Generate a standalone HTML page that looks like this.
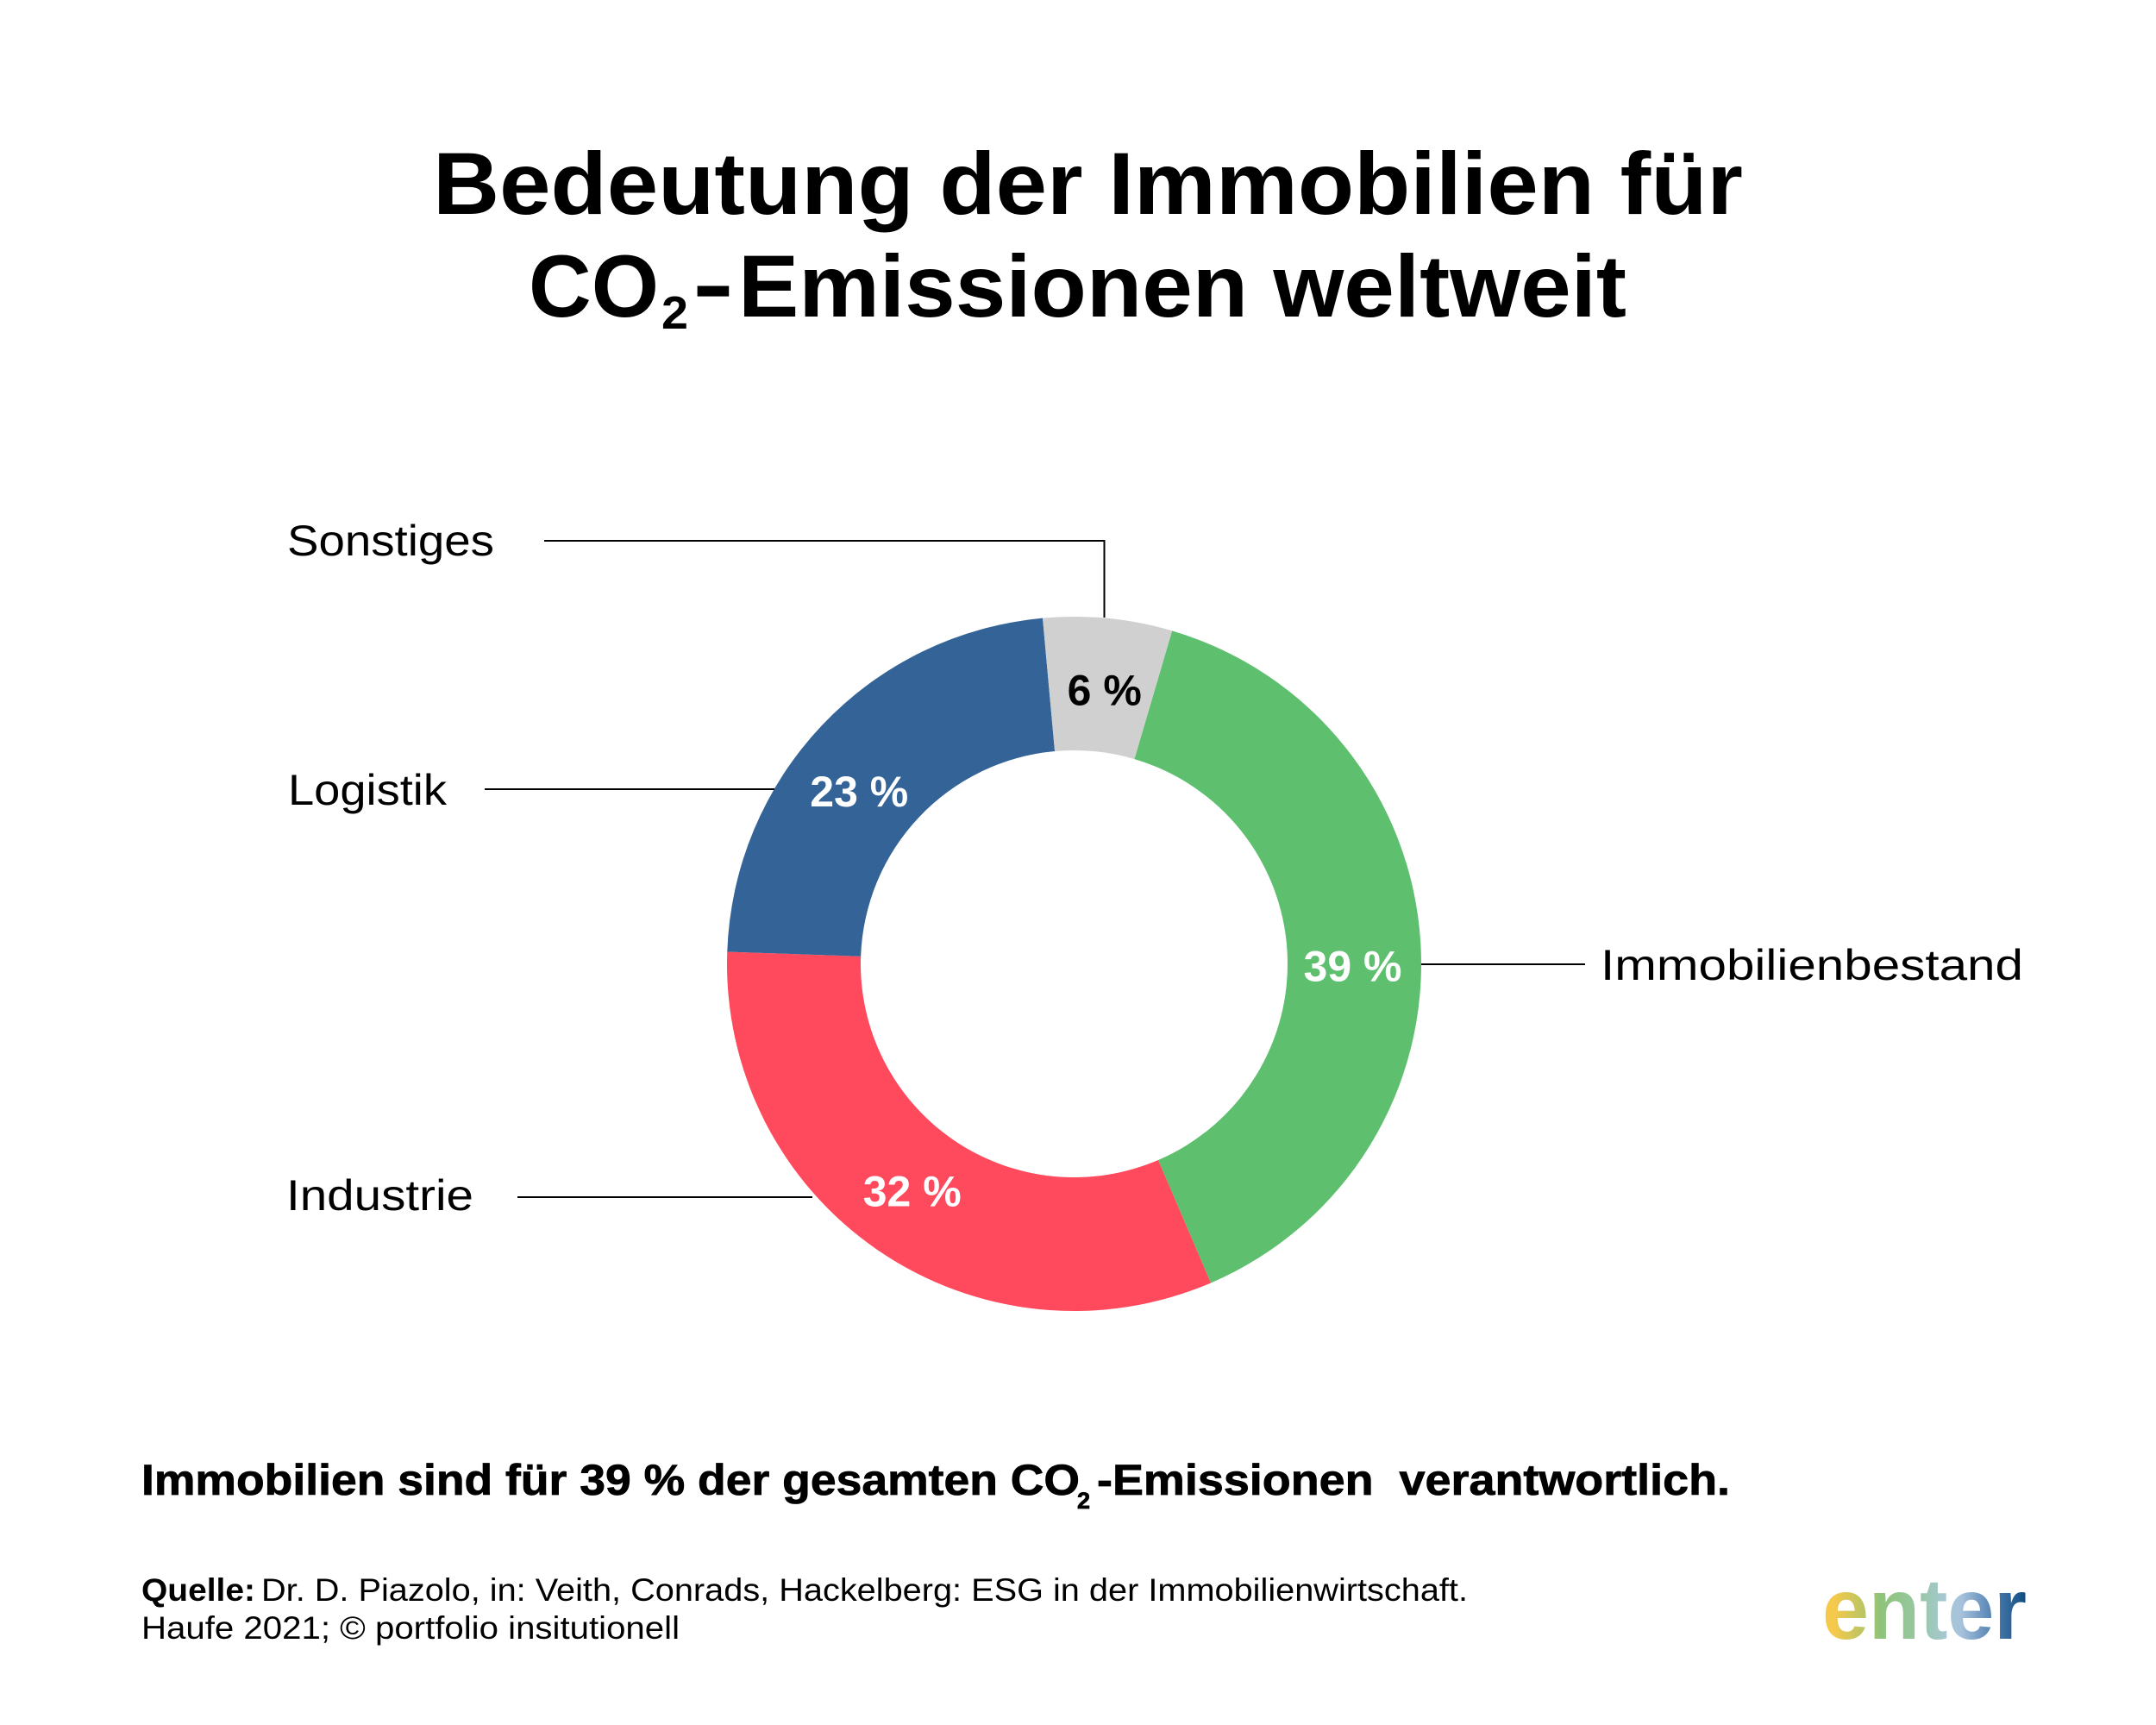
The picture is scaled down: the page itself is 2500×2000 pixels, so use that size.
<!DOCTYPE html>
<html lang="de">
<head>
<meta charset="utf-8">
<title>Bedeutung der Immobilien für CO2-Emissionen weltweit</title>
<style>
html,body{margin:0;padding:0;background:#fff;}
svg{display:block;}
text{font-family:"Liberation Sans",sans-serif;fill:#000;}
.b{font-weight:700;}
.heavy{stroke:#000;stroke-width:0.8;}
</style>
</head>
<body>
<svg id="chart" xmlns="http://www.w3.org/2000/svg" width="2500" height="2000" viewBox="0 0 2500 2000">
  <defs>
    <linearGradient id="logoGrad" gradientUnits="userSpaceOnUse" x1="2115" y1="0" x2="2349" y2="0">
      <stop offset="0.05" stop-color="#f5c94b"/>
      <stop offset="0.22" stop-color="#b0c568"/>
      <stop offset="0.28" stop-color="#8fc37a"/>
      <stop offset="0.45" stop-color="#95c79e"/>
      <stop offset="0.6" stop-color="#a6c8d2"/>
      <stop offset="0.68" stop-color="#a7c2dc"/>
      <stop offset="0.84" stop-color="#4f7fb0"/>
      <stop offset="1" stop-color="#0f4c81"/>
    </linearGradient>
  </defs>

  <rect x="0" y="0" width="2500" height="2000" fill="#ffffff"/>

  <g>
    <text class="b" x="502" y="248" font-size="102" textLength="1519" lengthAdjust="spacingAndGlyphs">Bedeutung der Immobilien für</text>
    <text class="b" x="613" y="367" font-size="102" textLength="151" lengthAdjust="spacingAndGlyphs">CO</text>
    <text class="b" x="767" y="381" font-size="54" textLength="31" lengthAdjust="spacingAndGlyphs">2</text>
    <text class="b" x="803" y="364" font-size="102" textLength="48" lengthAdjust="spacingAndGlyphs">-</text>
    <text class="b" x="856" y="367" font-size="102" textLength="1030" lengthAdjust="spacingAndGlyphs">Emissionen weltweit</text>
  </g>

  <g id="slices"></g>
  <g id="valueLabels"></g>

  <g fill="none" stroke="#000" stroke-width="2">
    <path d="M631 627H1280.500V716"/>
    <line x1="562" y1="915" x2="898" y2="915"/>
    <line x1="1648" y1="1118" x2="1838" y2="1118"/>
    <line x1="600" y1="1388" x2="942" y2="1388"/>
  </g>

  <g font-size="50">
    <text x="333" y="644" textLength="240" lengthAdjust="spacingAndGlyphs">Sonstiges</text>
    <text x="334" y="933" textLength="184" lengthAdjust="spacingAndGlyphs">Logistik</text>
    <text x="1856" y="1136" textLength="490" lengthAdjust="spacingAndGlyphs">Immobilienbestand</text>
    <text x="332" y="1403" textLength="217" lengthAdjust="spacingAndGlyphs">Industrie</text>
  </g>

  <g font-size="50">
    <text class="b heavy" x="164" y="1733" textLength="1088" lengthAdjust="spacingAndGlyphs">Immobilien sind für 39 % der gesamten CO</text>
    <text class="b heavy" x="1249" y="1749" font-size="27">2</text>
    <text class="b heavy" x="1272" y="1733" textLength="734" lengthAdjust="spacingAndGlyphs" xml:space="preserve">-Emissionen  verantwortlich.</text>
  </g>

  <g font-size="37">
    <text class="b" x="164" y="1856" textLength="132" lengthAdjust="spacingAndGlyphs">Quelle:</text>
    <text x="303" y="1856" textLength="1399" lengthAdjust="spacingAndGlyphs">Dr. D. Piazolo, in: Veith, Conrads, Hackelberg: ESG in der Immobilienwirtschaft.</text>
    <text x="164" y="1900" textLength="624" lengthAdjust="spacingAndGlyphs">Haufe 2021; © portfolio insitutionell</text>
  </g>

  <text class="b" x="2113" y="1900" font-size="100" textLength="237" lengthAdjust="spacingAndGlyphs" style="fill:url(#logoGrad)">enter</text>

  <script>
    const categories = ['Immobilienbestand', 'Industrie', 'Logistik', 'Sonstiges'];
    const shares = [39, 32, 23, 6];
    const valueLabels = ['39 %', '32 %', '23 %', '6 %'];
    const sliceColors = ['#5ec06f', '#ff4a5d', '#346497', '#d0d0d0'];
    const labelColors = ['#ffffff', '#ffffff', '#ffffff', '#000000'];

    (function () {
      const NS = 'http://www.w3.org/2000/svg';
      const cx = 1245.5, cy = 1117.5, outerR = 402.5, innerR = 247.5, labelR = 322, startDeg = 16.4;
      const labelNudgeDeg = [3.4, 1.5, -4.4, 0.5];
      const total = shares.reduce(function (a, b) { return a + b; }, 0);
      const angle = function (v) { return v / total * 360; };
      const pt = function (r, deg) {
        const a = deg * Math.PI / 180;
        return [cx + r * Math.sin(a), cy - r * Math.cos(a)];
      };
      const slices = document.getElementById('slices');
      const labels = document.getElementById('valueLabels');
      let cur = startDeg;
      shares.forEach(function (v, i) {
        const sweep = angle(v);
        const end = cur + sweep;
        const large = sweep > 180 ? 1 : 0;
        const p1 = pt(outerR, cur), p2 = pt(outerR, end), p3 = pt(innerR, end), p4 = pt(innerR, cur);
        const path = document.createElementNS(NS, 'path');
        path.setAttribute('d', 'M' + p1[0] + ' ' + p1[1] +
          'A' + outerR + ' ' + outerR + ' 0 ' + large + ' 1 ' + p2[0] + ' ' + p2[1] +
          'L' + p3[0] + ' ' + p3[1] +
          'A' + innerR + ' ' + innerR + ' 0 ' + large + ' 0 ' + p4[0] + ' ' + p4[1] + 'Z');
        path.setAttribute('fill', sliceColors[i]);
        
        
        slices.appendChild(path);

        const lp = pt(labelR, cur + sweep / 2 + labelNudgeDeg[i]);
        const t = document.createElementNS(NS, 'text');
        t.setAttribute('x', lp[0] + 1);
        t.setAttribute('y', lp[1] + 20);
        t.setAttribute('text-anchor', 'middle');
        t.setAttribute('font-size', '50');
        t.setAttribute('font-weight', '700');
        t.setAttribute('style', 'fill:' + labelColors[i]);
        
        
        t.textContent = valueLabels[i];
        labels.appendChild(t);
        cur = end;
      });
    })();
  </script>
</svg>
</body>
</html>
